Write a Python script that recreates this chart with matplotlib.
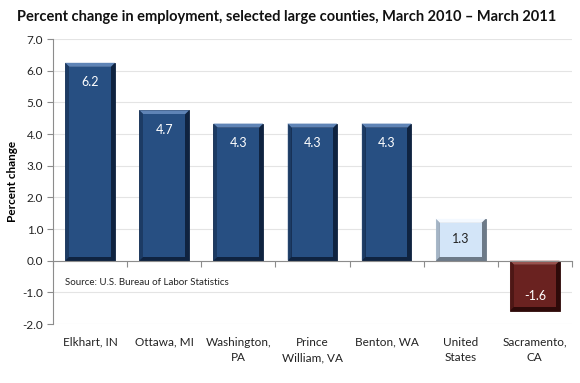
import matplotlib
matplotlib.use("Agg")
import matplotlib.pyplot as plt
from matplotlib.patches import Rectangle, Polygon

categories = ["Elkhart, IN", "Ottawa, MI", "Washington,\nPA", "Prince\nWilliam, VA", "Benton, WA", "United\nStates", "Sacramento,\nCA"]
values = [6.25, 4.75, 4.33, 4.33, 4.33, 1.32, -1.58]
labels = ["6.2", "4.7", "4.3", "4.3", "4.3", "1.3", "-1.6"]
yticks = [-2.0, -1.0, 0.0, 1.0, 2.0, 3.0, 4.0, 5.0, 6.0, 7.0]

# face, dark edge, light edge, label color
styles = [("#274f82", "#0f2340", "#5f84b6", "white")] * 5 + \
         [("#d3e5f8", "#6d7a88", "#f4f9ff", "#222222"),
          ("#6a2220", "#2e0a09", "#9a504c", "white")]

plt.rcParams['font.family'] = ['Lato', 'DejaVu Sans']
fig = plt.figure(figsize=(5.8, 3.83), dpi=100)
ax = fig.add_axes([0.0914, 0.154, 0.8946, 0.744])
ax.set_xlim(-0.5, len(categories) - 0.5)
ax.set_ylim(-2.0, 7.0)

for yv in yticks:
    ax.axhline(yv, color="#e4e4e4", lw=0.8, zorder=0)

x = list(range(len(categories)))
bars = ax.bar(x, values, width=0.67, zorder=2, linewidth=0)

fig.canvas.draw()
inv = ax.transData.inverted()
p0 = inv.transform((0, 0))
p1 = inv.transform((4, 4))
dx = p1[0] - p0[0]
dy = p1[1] - p0[1]

for b, (face, dark, light, tc), lab, v in zip(bars, styles, labels, values):
    x0, w = b.get_x(), b.get_width()
    y0, h = b.get_y(), b.get_height()
    ylo, yhi = min(y0, y0 + h), max(y0, y0 + h)
    b.set_facecolor(dark)
    b.set_edgecolor(dark)
    b.set_linewidth(0.6)
    # top bevel (light)
    ax.add_patch(Polygon([(x0, yhi), (x0 + w, yhi), (x0 + w - dx, yhi - dy), (x0 + dx, yhi - dy)],
                         closed=True, facecolor=light, edgecolor="none", zorder=3))
    # left bevel (medium)
    ax.add_patch(Polygon([(x0, yhi), (x0 + dx, yhi - dy), (x0 + dx, ylo + dy), (x0, ylo)],
                         closed=True, facecolor=face, edgecolor="none", alpha=0.55, zorder=3))
    # inner face
    ax.add_patch(Rectangle((x0 + dx, ylo + dy), w - 2 * dx, (yhi - ylo) - 2 * dy,
                           facecolor=face, edgecolor="none", zorder=4))
    if v >= 0:
        ax.text(b.get_x() + w / 2, yhi - 3.4 * dy, lab, ha="center", va="top",
                color=tc, fontsize=9, zorder=5)
    else:
        ax.text(b.get_x() + w / 2, ylo + 2.2 * dy, lab, ha="center", va="bottom",
                color=tc, fontsize=9, zorder=5)

for s in ["top", "right"]:
    ax.spines[s].set_visible(False)
ax.spines["left"].set_color("#8c8c8c")
ax.spines["bottom"].set_position(("data", 0))
ax.spines["bottom"].set_color("#8c8c8c")
ax.spines["bottom"].set_zorder(6)

ax.set_yticks(yticks)
ax.set_yticklabels([f"{t:.1f}" for t in yticks], fontsize=8.5, color="#222222")
ax.tick_params(axis="y", length=4, color="#8c8c8c", pad=3)

bounds = [i - 0.5 for i in range(len(categories) + 1)]
ax.set_xticks(bounds)
ax.set_xticklabels([])
ax.tick_params(axis="x", length=4, color="#8c8c8c", direction="out")

sec = ax.secondary_xaxis(location=0)
sec.set_xticks(x)
sec.set_xticklabels(categories, fontsize=8.5, color="#222222", linespacing=1.55)
sec.tick_params(length=0, pad=9)
sec.spines["bottom"].set_visible(False)

ax.set_ylabel("Percent change", fontsize=8.5, fontweight="bold", labelpad=3)

ax.text(-0.34, -0.7, "Source: U.S. Bureau of Labor Statistics", fontsize=7, color="#222222",
        va="center", ha="left")

fig.text(0.029, 0.955, "Percent change in employment, selected large counties, March 2010 \u2013 March 2011",
         fontsize=10.5, fontweight="bold", ha="left", va="center", color="#111111")

fig.savefig("out.png", dpi=100)
